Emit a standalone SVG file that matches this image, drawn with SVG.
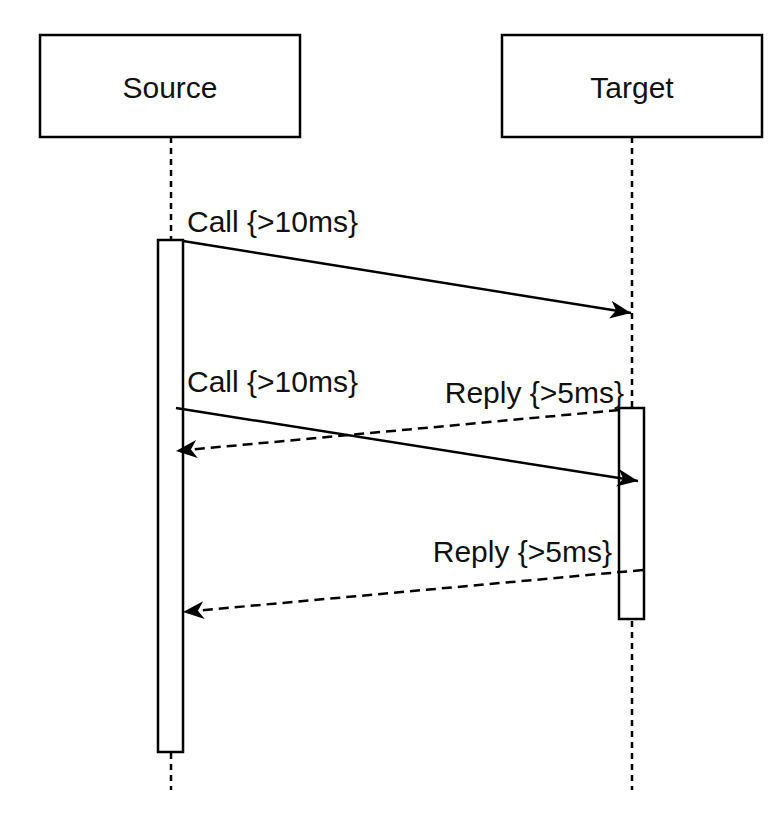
<svg xmlns="http://www.w3.org/2000/svg" width="778" height="824" viewBox="0 0 778 824">
<defs>
<style>
.box{fill:#fff;stroke:#000;stroke-width:2.5}
.life{fill:none;stroke:#000;stroke-width:2.5;stroke-dasharray:6 5}
.t{font-family:"Liberation Sans",Arial,sans-serif;font-size:30px;fill:#111}
.msg{fill:none;stroke:#000;stroke-width:2.5}
.dash{stroke-dasharray:10 6}
</style>
<marker id="ah" viewBox="0 0 22 18" refX="21" refY="9" markerWidth="22" markerHeight="18" markerUnits="userSpaceOnUse" orient="auto">
<path d="M0,0 L21,9 L0,18 L6,9 Z" fill="#000"/>
</marker>
</defs>
<rect width="778" height="824" fill="#fff"/>
<g id="source">
<line class="life" x1="171" y1="137" x2="171" y2="790"/>
<rect class="box" x="158" y="240" width="25" height="512"/>
<rect class="box" x="40" y="35" width="260" height="102"/>
<text class="t" x="170" y="98" text-anchor="middle">Source</text>
</g>
<g id="target">
<line class="life" x1="632" y1="137" x2="632" y2="790"/>
<rect class="box" x="619" y="408" width="25" height="211"/>
<rect class="box" x="502" y="35" width="260" height="102"/>
<text class="t" x="632" y="98" text-anchor="middle">Target</text>
</g>
<g id="connectors">
<line class="msg" x1="183" y1="241" x2="631" y2="313" marker-end="url(#ah)"/>
<text class="t" x="187" y="232">Call {&gt;10ms}</text>
<line class="msg dash" x1="619" y1="410" x2="176" y2="451" marker-end="url(#ah)"/>
<text class="t" x="624" y="403" text-anchor="end">Reply {&gt;5ms}</text>
<line class="msg" x1="176" y1="408" x2="638" y2="481" marker-end="url(#ah)"/>
<text class="t" x="187" y="392">Call {&gt;10ms}</text>
<line class="msg dash" x1="643" y1="570" x2="183" y2="612" marker-end="url(#ah)"/>
<text class="t" x="612" y="562" text-anchor="end">Reply {&gt;5ms}</text>
</g>
</svg>
